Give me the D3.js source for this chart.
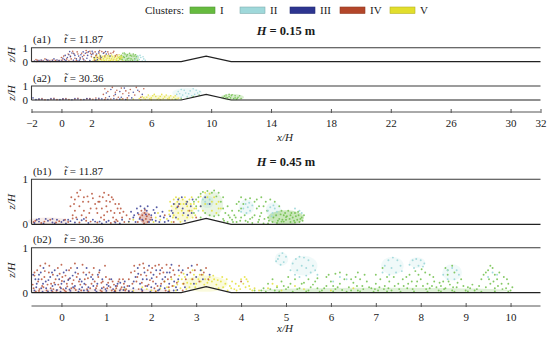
<!DOCTYPE html>
<html><head><meta charset="utf-8">
<script src="https://cdn.jsdelivr.net/npm/d3@7"></script>
<style>
body{margin:0;background:#fff}
svg{display:block;font-family:"Liberation Serif","DejaVu Serif",serif}
svg text{font-family:"Liberation Serif","DejaVu Serif",serif !important;fill:#1a1a1a}
</style>
</head><body>
<svg id="chart" width="550" height="340"></svg>
<script>
// ---------------- data ----------------
const clusters = ["I", "II", "III", "IV", "V"];
const clusterColors = {I: "#66bb3f", II: "#9fd8da", III: "#2d3590", IV: "#b3462a", V: "#e2de2c"};
const depths = [0.15, 0.45];                 // H in metres
const timeLabels = ["11.87", "30.36"];
const panelLabels = [["(a1)", "(a2)"], ["(b1)", "(b2)"]];
const domainXm = [-0.3, 4.8];                // channel extent in metres
const bumpXm = [1.2, 1.45, 1.7];             // bump start, crest, end (m)
const bumpHeightM = 0.06;
const topTicks = [-2, 0, 2, 6, 10, 14, 18, 22, 26, 30, 32];
const bottomTicks = [0, 1, 2, 3, 4, 5, 6, 7, 8, 9, 10];
const zTicks = [0, 1];

// particle positions (x/H, z/H) per panel and cluster
const ptsA1 = {
  III: "-1.8,0.05 -1.5,0.08 -1.2,0.04 -0.9,0.1 -0.6,0.06 -0.3,0.12 0,0.05 0.2,0.15 0.4,0.3 0.5,0.5 0.7,0.62 0.9,0.45 1.0,0.2 1.2,0.1 1.4,0.35 1.6,0.6 1.8,0.7 2.0,0.5 2.2,0.3 2.4,0.15 2.6,0.4 2.8,0.6 3.0,0.55 0.3,0.08 0.8,0.1 1.1,0.05 1.5,0.12 1.9,0.08 2.3,0.06 -1.0,0.15 -0.5,0.2 0.1,0.25 0.6,0.35 1.3,0.5 1.7,0.25 2.1,0.62 2.5,0.7 -1.65,0.02 -1.35,0.12 -0.75,0.02 -0.15,0.08 0.25,0.45 0.55,0.72 0.85,0.55 1.15,0.4 1.45,0.7 1.75,0.45 2.05,0.75 2.35,0.55 2.65,0.3 2.95,0.72 3.25,0.4 1.25,0.2",
  IV: "-1.6,0.1 -1.3,0.06 -0.8,0.04 -0.4,0.09 0.05,0.12 0.35,0.2 0.6,0.4 0.8,0.6 1.1,0.55 1.25,0.3 1.5,0.45 1.7,0.65 1.9,0.75 2.1,0.55 2.3,0.45 2.5,0.6 2.7,0.72 2.9,0.4 3.1,0.7 3.3,0.6 3.5,0.75 3.7,0.5 0.5,0.05 1.0,0.08 1.6,0.04 2.2,0.1 2.6,0.2 -1.1,0.2 0.0,0.3 0.9,0.25 -1.7,0.15 -1.4,0.03 -0.95,0.07 -0.6,0.12 -0.2,0.05 0.15,0.4 0.45,0.55 0.75,0.75 1.05,0.7 1.35,0.6 1.65,0.8 1.95,0.6 2.25,0.7 2.55,0.8 2.85,0.65 3.15,0.55 3.45,0.65 3.6,0.4 0.65,0.2 1.45,0.2 2.0,0.35 2.4,0.3",
  V: "2.1,0.05 2.2,0.2 2.3,0.35 2.4,0.1 2.5,0.25 2.6,0.4 2.7,0.05 2.8,0.2 2.9,0.3 3.0,0.12 3.1,0.42 3.2,0.25 3.3,0.05 3.4,0.35 3.5,0.18 3.6,0.45 3.7,0.08 3.8,0.3 3.9,0.15 4.0,0.4 4.1,0.05 2.35,0.45 2.65,0.15 2.95,0.48 3.25,0.1 3.55,0.3 3.85,0.5 2.15,0.3 2.45,0.05 2.75,0.35 3.05,0.25 3.35,0.48 3.65,0.12 3.95,0.25 4.05,0.3 2.55,0.5 3.15,0.05 3.45,0.1 3.75,0.4 2.25,0.12 2.85,0.08 3.35,0.2 3.9,0.35 2.6,0.3 3.2,0.38 3.7,0.22",
  I: "3.8,0.05 3.9,0.2 4.0,0.45 4.1,0.6 4.2,0.3 4.3,0.1 4.4,0.5 4.5,0.25 4.6,0.05 4.7,0.4 4.8,0.55 4.9,0.2 5.0,0.35 5.1,0.1 4.05,0.15 4.25,0.55 4.45,0.05 4.65,0.2 4.85,0.4 5.05,0.05 4.15,0.35 4.35,0.4 4.55,0.6 4.75,0.1 4.95,0.5 4.2,0.62 4.6,0.45 4.4,0.2",
  II: "4.9,0.1 5.0,0.25 5.1,0.4 5.2,0.15 5.3,0.3 5.4,0.05 5.5,0.2 5.6,0.1 5.25,0.45 5.45,0.35"
};
const ptsA2 = {
  III: "-1.9,0.15 -1.7,0.03 -1.3,0.05 -0.9,0.02 -0.5,0.06 -0.1,0.03 0.3,0.05 0.7,0.02 1.1,0.07 1.5,0.04 1.9,0.06 2.3,0.03 2.7,0.08 3.1,0.05 3.5,0.1 3.9,0.06 4.3,0.04 3.0,0.5 3.3,0.75 3.6,0.4 3.9,0.6 4.2,0.85 4.5,0.3 4.8,0.55 5.1,0.7 5.4,0.4 3.2,0.25 4.0,0.2 4.7,0.15 -1.5,0.08 -0.7,0.1 0.1,0.08 0.9,0.1 1.7,0.1 2.5,0.12",
  IV: "-1.5,0.04 -1.1,0.02 -0.7,0.05 -0.3,0.03 0.1,0.06 0.5,0.04 0.9,0.05 1.3,0.03 1.7,0.08 2.1,0.05 2.5,0.06 2.9,0.04 3.3,0.07 3.7,0.05 4.1,0.08 2.8,0.4 2.9,0.8 3.1,0.6 3.4,0.9 3.5,0.3 3.7,0.7 3.8,0.2 4.0,0.85 4.1,0.45 4.3,0.65 4.4,0.15 4.6,0.75 4.9,0.35 5.0,0.9 5.2,0.6 5.3,0.2 5.5,0.8 3.6,0.55 4.5,0.5 2.95,0.15 -1.3,0.1 -0.5,0.12 0.3,0.1 1.1,0.12 1.9,0.1 2.3,0.14",
  V: "4.0,0.05 4.4,0.03 4.8,0.06 5.2,0.1 5.4,0.25 5.6,0.05 5.8,0.35 6.0,0.15 6.2,0.4 6.4,0.05 6.6,0.25 6.8,0.1 7.0,0.35 7.2,0.2 7.4,0.05 7.6,0.3 7.8,0.12 5.5,0.15 5.9,0.08 6.3,0.25 6.7,0.4 7.1,0.08 7.5,0.2 5.7,0.2 6.1,0.3 6.5,0.12 6.9,0.22 7.3,0.3 7.7,0.05 6.0,0.02 6.6,0.04 7.2,0.06 5.3,0.02",
  II: "7.7,0.4 7.8,0.6 8.0,0.75 8.2,0.7 8.3,0.5 8.1,0.35 7.9,0.45 8.5,0.45 8.6,0.65 8.8,0.8 9.0,0.7 9.1,0.5 8.9,0.4 8.7,0.3 9.25,0.6 8.4,0.25 8.0,0.2",
  I: "7.6,0.05 8.0,0.08 8.4,0.12 8.8,0.25 9.2,0.35 10.8,0.2 10.9,0.28 11.0,0.35 11.2,0.4 11.4,0.38 11.6,0.3 11.8,0.2 12.0,0.1 11.1,0.15 11.3,0.15 11.5,0.1 11.7,0.05 11.9,0.3 11.2,0.25 11.6,0.15 11.0,0.2 11.35,0.3 11.75,0.12"
};
const ptsB1 = {
  III: "-0.6,0.03 -0.5,0.06 -0.4,0.02 -0.3,0.08 -0.2,0.04 -0.1,0.1 0,0.05 0.1,0.02 0.2,0.07 0.3,0.04 0.45,0.09 0.6,0.03 0.75,0.06 0.9,0.02 1.05,0.08 1.2,0.04 1.35,0.1 1.5,0.06 1.6,0.15 1.7,0.25 1.8,0.1 1.9,0.3 2.0,0.2 2.1,0.08 2.2,0.18 2.3,0.05 2.45,0.3 2.5,0.45 2.6,0.55 2.7,0.35 2.8,0.5 2.9,0.25 2.55,0.15 2.75,0.08 1.55,0.28 1.65,0.05 1.85,0.35 1.95,0.05 2.05,0.32 2.25,0.28 -0.55,0.1 -0.35,0.12 -0.15,0.02 0.05,0.09 0.35,0.11 0.7,0.1 1.0,0.05 1.3,0.02 3.1,0.4 3.2,0.6 3.3,0.45 1.62,0.2 1.68,0.35 1.74,0.12 1.76,0.4 1.88,0.22 1.92,0.4 2.02,0.1 2.08,0.25 2.12,0.38 2.18,0.05 2.28,0.15 2.38,0.08 2.42,0.18 2.48,0.25 2.58,0.38 2.62,0.45 2.68,0.6 2.72,0.25 2.78,0.45 2.82,0.2 2.88,0.4 2.92,0.55 -0.5,0.12 -0.2,0.12 0.15,0.1 0.5,0.12 0.85,0.06",
  IV: "-0.62,0.05 -0.45,0.03 -0.25,0.1 -0.05,0.07 0.15,0.05 0.25,0.13 0.4,0.04 0.55,0.08 0.8,0.04 0.95,0.1 1.1,0.03 1.25,0.07 1.4,0.05 0.3,0.55 0.35,0.7 0.42,0.76 0.5,0.6 0.6,0.5 0.7,0.58 0.75,0.45 0.65,0.35 0.5,0.3 0.4,0.4 0.45,0.2 0.55,0.15 0.3,0.3 0.25,0.2 0.38,0.62 0.85,0.62 0.95,0.7 1.05,0.65 1.15,0.55 1.2,0.45 1.25,0.35 1.3,0.25 1.1,0.3 1.0,0.4 0.9,0.35 0.8,0.25 0.95,0.2 1.15,0.15 1.35,0.15 0.85,0.5 1.0,0.52 1.7,0.05 1.75,0.15 1.8,0.2 1.82,0.08 1.85,0.25 1.88,0.12 1.9,0.18 1.92,0.05 1.95,0.22 1.98,0.1 1.78,0.3 1.86,0.32 1.72,0.22 2.0,0.15 1.84,0.02 2.3,0.2 2.6,0.4 2.85,0.3 3.0,0.15 2.5,0.05 0.2,0.4 0.22,0.6 0.28,0.45 0.33,0.15 0.48,0.5 0.58,0.62 0.62,0.25 0.68,0.68 0.78,0.35 0.82,0.5 0.88,0.15 0.92,0.6 1.02,0.28 1.08,0.5 1.12,0.6 1.18,0.25 1.22,0.1 1.28,0.45 1.32,0.35 1.38,0.28 1.45,0.2 1.52,0.12 -0.58,0.08 -0.38,0.06 -0.12,0.04 0.08,0.1 0.65,0.06 1.18,0.06",
  V: "1.5,0.05 1.6,0.1 2.05,0.05 2.1,0.15 2.15,0.25 2.2,0.1 2.35,0.12 2.4,0.22 2.45,0.05 2.5,0.2 2.55,0.35 2.6,0.25 2.65,0.45 2.7,0.55 2.75,0.6 2.8,0.4 2.85,0.55 2.9,0.6 2.95,0.45 2.6,0.12 2.7,0.2 2.8,0.15 2.9,0.3 2.5,0.55 2.55,0.6 2.45,0.4 2.65,0.05 3.0,0.35 3.05,0.5 3.1,0.62 3.2,0.7 3.3,0.68 3.4,0.6 3.5,0.5 3.55,0.35 3.45,0.25 3.35,0.3 3.15,0.3 2.98,0.2 2.4,0.3 2.42,0.5 2.48,0.15 2.52,0.45 2.58,0.5 2.62,0.58 2.68,0.3 2.72,0.45 2.78,0.5 2.82,0.3 2.88,0.45 2.92,0.15 2.96,0.35 3.1,0.4 3.2,0.45 3.25,0.6 3.35,0.5 3.45,0.45 3.5,0.35",
  I: "2.95,0.25 3.0,0.4 3.05,0.6 3.15,0.72 3.25,0.74 3.35,0.7 3.45,0.62 3.55,0.5 3.6,0.35 3.5,0.2 3.4,0.18 3.3,0.2 3.2,0.25 3.1,0.15 3.6,0.12 3.7,0.05 3.75,0.15 3.8,0.1 3.85,0.2 3.9,0.05 3.95,0.3 4.0,0.15 4.05,0.45 4.1,0.55 4.2,0.58 4.3,0.5 4.35,0.35 4.3,0.2 4.2,0.12 4.1,0.08 4.4,0.1 4.45,0.25 4.5,0.4 4.55,0.5 4.65,0.55 4.75,0.5 4.85,0.4 4.9,0.3 4.95,0.2 4.85,0.12 4.7,0.05 4.6,0.15 5.0,0.1 5.1,0.05 5.15,0.15 5.2,0.25 5.25,0.1 5.3,0.05 5.35,0.15 5.1,0.2 4.25,0.03 4.5,0.02 4.8,0.03 5.05,0.3 3.65,0.25 3.7,0.4 3.8,0.3 3.9,0.45 4.0,0.6 4.6,0.02 4.9,0.06 5.2,0.04 5.28,0.2 5.0,0.16 4.95,0.06 3.62,0.08 3.72,0.2 3.82,0.05 3.88,0.15 3.98,0.08 4.08,0.2 4.15,0.05 4.25,0.15 4.38,0.05 4.42,0.18 4.52,0.12 4.58,0.3 4.62,0.08 4.72,0.15 4.78,0.2 4.82,0.08 4.88,0.22 4.92,0.1 4.98,0.25 5.02,0.18 5.08,0.12 5.12,0.25 5.18,0.08 5.22,0.18 5.27,0.28 5.32,0.12 5.37,0.08 5.4,0.2 4.4,0.4 4.35,0.55 4.45,0.6 4.0,0.35 3.95,0.5 3.6,0.6 3.5,0.7 3.4,0.75 3.1,0.68 3.0,0.55 2.95,0.5",
  II: "4.05,0.35 4.1,0.45 4.15,0.38 4.2,0.3 4.12,0.25 4.0,0.28 4.18,0.48 4.25,0.42 4.6,0.3 4.65,0.38 4.7,0.25 4.75,0.35 4.8,0.28 4.72,0.42 4.68,0.18 3.2,0.5 3.25,0.45 3.3,0.55 3.15,0.55 3.05,0.3 5.2,0.35 5.3,0.3 5.35,0.25"
};
const ptsB2 = {
  III: "-0.6,0.05 -0.55,0.2 -0.5,0.4 -0.45,0.1 -0.4,0.55 -0.35,0.25 -0.3,0.03 -0.25,0.35 -0.2,0.15 -0.15,0.5 -0.1,0.06 -0.05,0.3 0,0.2 0.05,0.45 0.1,0.1 0.15,0.28 0.2,0.04 0.25,0.38 0.3,0.15 0.35,0.55 0.4,0.08 0.45,0.25 0.5,0.05 0.55,0.4 0.6,0.12 0.7,0.3 0.75,0.06 0.8,0.2 0.85,0.5 0.9,0.1 1.0,0.04 1.05,0.15 1.15,0.08 1.25,0.2 1.3,0.05 1.4,0.12 1.5,0.04 1.6,0.1 1.65,0.35 1.7,0.55 1.75,0.2 1.8,0.05 1.85,0.45 1.9,0.3 1.95,0.6 2.0,0.12 2.05,0.4 2.1,0.2 2.15,0.05 2.2,0.5 2.25,0.3 2.3,0.1 2.35,0.45 2.4,0.2 2.5,0.05 2.6,0.3 2.7,0.5 2.8,0.4 2.9,0.6 3.0,0.35 3.1,0.5 3.3,0.4 2.55,0.12 2.45,0.62 -0.58,0.3 -0.42,0.02 -0.22,0.05 -0.02,0.02 0.18,0.07 0.38,0.02 0.58,0.05 0.78,0.02 0.98,0.08 1.18,0.02 1.38,0.06 1.58,0.02 1.78,0.08 1.98,0.02 2.18,0.07 2.38,0.02 2.58,0.06 -0.63,0.4 -0.56,0.12 -0.51,0.3 -0.46,0.45 -0.41,0.2 -0.34,0.1 -0.29,0.28 -0.21,0.45 -0.14,0.18 -0.09,0.38 -0.01,0.1 0.06,0.25 0.11,0.5 0.19,0.32 0.26,0.12 0.31,0.45 0.41,0.3 0.46,0.12 0.51,0.2 0.56,0.55 0.66,0.35 0.71,0.15 0.81,0.4 0.91,0.3 1.01,0.18 1.11,0.3 1.21,0.15 1.31,0.22 1.41,0.25 1.51,0.15 1.61,0.25 1.71,0.42 1.81,0.3 1.91,0.15 2.01,0.32 2.11,0.5 2.21,0.15 2.31,0.35 2.41,0.45 2.51,0.25 2.61,0.5 2.75,0.12 2.95,0.2 3.15,0.3",
  IV: "-0.62,0.1 -0.57,0.02 -0.52,0.25 -0.47,0.6 -0.43,0.15 -0.38,0.35 -0.33,0.05 -0.28,0.45 -0.23,0.2 -0.18,0.08 -0.13,0.3 -0.08,0.55 -0.03,0.12 0.02,0.35 0.07,0.05 0.12,0.2 0.17,0.5 0.22,0.1 0.27,0.28 0.32,0.06 0.37,0.42 0.42,0.18 0.47,0.62 0.52,0.3 0.57,0.08 0.62,0.45 0.67,0.2 0.72,0.55 0.77,0.1 0.82,0.35 0.87,0.05 0.92,0.25 0.97,0.6 1.02,0.1 1.07,0.3 1.12,0.05 1.17,0.18 1.22,0.1 1.27,0.25 1.32,0.08 1.37,0.3 1.42,0.05 1.47,0.15 1.55,0.45 1.62,0.6 1.67,0.25 1.72,0.08 1.77,0.4 1.82,0.65 1.87,0.15 1.92,0.5 1.97,0.28 2.02,0.55 2.07,0.1 2.12,0.35 2.17,0.62 2.22,0.2 2.27,0.45 2.32,0.05 2.37,0.3 2.42,0.55 2.47,0.15 2.52,0.4 2.62,0.6 2.72,0.2 2.82,0.55 2.92,0.3 3.02,0.62 3.12,0.4 3.22,0.55 -0.6,0.45 -0.36,0.65 0.0,0.62 0.3,0.65 0.6,0.02 0.9,0.03 1.2,0.02 1.5,0.02 1.8,0.03 2.1,0.02 2.4,0.03 2.7,0.05 0.1,0.02 -0.2,0.02 -0.5,0.04 4.0,0.25 -0.64,0.18 -0.6,0.38 -0.54,0.5 -0.49,0.08 -0.44,0.3 -0.4,0.12 -0.37,0.48 -0.31,0.18 -0.27,0.6 -0.24,0.1 -0.19,0.4 -0.16,0.22 -0.11,0.04 -0.07,0.18 -0.04,0.42 0.01,0.26 0.04,0.08 0.09,0.38 0.13,0.14 0.16,0.3 0.21,0.55 0.24,0.2 0.29,0.1 0.34,0.35 0.39,0.25 0.44,0.05 0.49,0.45 0.54,0.18 0.59,0.32 0.64,0.1 0.69,0.4 0.74,0.25 0.79,0.15 0.84,0.45 0.89,0.22 0.94,0.12 0.99,0.35 1.04,0.22 1.09,0.12 1.14,0.25 1.19,0.05 1.24,0.15 1.29,0.3 1.34,0.12 1.39,0.2 1.44,0.08 1.5,0.3 1.58,0.2 1.63,0.48 1.69,0.35 1.74,0.62 1.79,0.22 1.84,0.55 1.89,0.38 1.94,0.18 1.99,0.45 2.04,0.25 2.09,0.6 2.14,0.15 2.19,0.42 2.24,0.55 2.29,0.25 2.34,0.62 2.39,0.12 2.44,0.35 2.49,0.5 2.57,0.22 2.67,0.45 2.77,0.3 2.87,0.45 2.97,0.5 3.07,0.25 3.17,0.45 3.27,0.3",
  V: "1.2,0.05 1.4,0.08 1.6,0.04 1.8,0.12 2.0,0.05 2.2,0.1 2.4,0.06 2.5,0.15 2.6,0.25 2.65,0.1 2.7,0.2 2.75,0.35 2.8,0.22 2.85,0.12 2.9,0.3 2.95,0.4 3.0,0.2 3.05,0.3 3.1,0.25 3.15,0.4 3.2,0.3 3.25,0.22 3.3,0.35 3.35,0.25 3.4,0.3 3.45,0.18 3.5,0.1 3.55,0.25 3.6,0.12 3.65,0.2 3.7,0.05 3.75,0.15 3.85,0.08 3.95,0.15 4.0,0.3 4.05,0.2 4.1,0.12 4.15,0.25 4.2,0.08 4.25,0.05 4.4,0.05 4.6,0.1 4.7,0.2 4.8,0.15 4.9,0.05 2.3,0.25 2.45,0.3 2.55,0.05 3.8,0.25 4.08,0.35 3.9,0.05 5.2,0.15 5.4,0.08 6.0,0.05 6.5,0.1 1.9,0.08 2.1,0.04 2.35,0.12 2.58,0.18 2.68,0.3 2.78,0.08 2.88,0.2 2.98,0.12 3.08,0.4 3.18,0.18 3.28,0.28 3.38,0.38 3.48,0.28 3.58,0.35 3.68,0.3 3.78,0.1 3.88,0.2 3.98,0.08 4.12,0.3 4.18,0.15 4.3,0.1 2.62,0.38 2.72,0.42 2.92,0.5 3.12,0.5",
  II: "4.78,0.7 4.85,0.82 4.92,0.88 5.0,0.8 4.95,0.68 4.88,0.62 4.82,0.75 5.1,0.5 5.15,0.65 5.22,0.75 5.3,0.8 5.4,0.78 5.5,0.72 5.6,0.6 5.65,0.5 5.7,0.4 5.55,0.45 5.45,0.55 5.35,0.6 5.25,0.5 5.2,0.4 5.3,0.35 5.45,0.38 7.15,0.45 7.2,0.6 7.28,0.72 7.38,0.78 7.48,0.72 7.55,0.6 7.58,0.48 7.45,0.45 7.35,0.55 7.3,0.4 7.75,0.62 7.82,0.72 7.9,0.75 8.0,0.72 8.08,0.65 8.05,0.58 7.95,0.6 7.85,0.55 8.5,0.4 8.6,0.5 8.7,0.55 8.8,0.5 8.85,0.4 8.75,0.3 8.6,0.3 9.5,0.35 9.6,0.45 9.7,0.4 6.05,0.25 6.2,0.35 6.35,0.3",
  I: "4.3,0.05 4.5,0.1 4.6,0.2 4.7,0.3 4.8,0.12 4.9,0.25 5.0,0.08 5.1,0.2 5.2,0.3 5.3,0.1 5.4,0.22 5.5,0.05 5.6,0.18 5.7,0.1 5.8,0.05 5.9,0.15 6.0,0.25 6.1,0.08 6.2,0.2 6.3,0.3 6.4,0.12 6.5,0.22 6.55,0.35 6.6,0.05 6.7,0.15 6.8,0.25 6.9,0.1 7.0,0.2 7.05,0.05 7.1,0.3 7.2,0.15 7.3,0.25 7.35,0.05 7.4,0.35 7.5,0.2 7.6,0.3 7.7,0.1 7.75,0.4 7.8,0.25 7.9,0.15 7.95,0.4 8.0,0.3 8.1,0.45 8.15,0.2 8.2,0.1 8.3,0.25 8.4,0.05 8.45,0.15 8.5,0.25 8.55,0.1 8.6,0.4 8.65,0.18 8.7,0.05 8.8,0.12 8.9,0.3 9.0,0.05 9.1,0.1 9.2,0.05 9.3,0.15 9.35,0.3 9.4,0.4 9.5,0.5 9.55,0.2 9.6,0.55 9.65,0.1 9.7,0.3 9.75,0.45 9.8,0.2 9.85,0.35 9.9,0.1 9.95,0.2 10.0,0.05 10.04,0.12 8.6,0.5 8.75,0.45 8.7,0.6 8.55,0.55 6.6,0.45 6.65,0.3 6.75,0.4 5.9,0.35 5.95,0.4 6.1,0.42 7.0,0.4 7.15,0.55 7.25,0.35 4.55,0.02 4.85,0.03 5.15,0.02 5.45,0.03 5.75,0.02 6.05,0.03 6.35,0.02 6.65,0.03 6.95,0.02 7.25,0.03 7.55,0.02 7.85,0.03 8.15,0.02 8.45,0.03 8.75,0.02 9.05,0.03 9.35,0.02 9.65,0.03 9.95,0.02 4.45,0.05 4.65,0.08 4.75,0.05 4.95,0.15 5.05,0.12 5.25,0.08 5.35,0.2 5.55,0.12 5.65,0.25 5.85,0.1 6.05,0.15 6.15,0.12 6.25,0.06 6.45,0.05 6.58,0.15 6.72,0.08 6.85,0.12 6.98,0.08 7.08,0.12 7.18,0.08 7.28,0.1 7.42,0.15 7.52,0.08 7.62,0.15 7.72,0.2 7.82,0.08 7.92,0.25 8.05,0.15 8.12,0.08 8.25,0.15 8.35,0.12 8.42,0.22 8.52,0.08 8.62,0.25 8.72,0.12 8.82,0.22 8.95,0.15 9.05,0.12 9.15,0.18 9.25,0.08 9.45,0.12 9.52,0.3 9.62,0.25 9.72,0.15 9.82,0.08 9.92,0.3 7.68,0.35 7.88,0.48 8.02,0.52 8.2,0.4 8.28,0.35 6.45,0.3 6.35,0.4 6.2,0.45 9.45,0.45 9.65,0.4 9.55,0.6 5.5,0.3 5.7,0.32 5.05,0.35"
};
// faint concentration haze: [cluster, x/H, z/H, rx, rz, opacity]
const hazeA = [
  [["IV", -0.5, 0.08, 1.6, 0.12, 0.1], ["V", 3.1, 0.22, 1.0, 0.25, 0.3], ["I", 4.5, 0.28, 0.7, 0.3, 0.3]],
  [["II", 8.4, 0.5, 1.0, 0.35, 0.16], ["I", 11.4, 0.2, 0.8, 0.22, 0.25], ["V", 6.6, 0.15, 1.4, 0.2, 0.2]]
];
const hazeB = [
  [["IV", -0.3, 0.07, 0.45, 0.08, 0.1], ["II", 4.12, 0.38, 0.17, 0.17, 0.18], ["II", 4.72, 0.32, 0.17, 0.17, 0.18],
   ["II", 3.25, 0.5, 0.14, 0.14, 0.2], ["I", 5.0, 0.15, 0.4, 0.16, 0.35], ["V", 2.7, 0.3, 0.25, 0.25, 0.18],
   ["I", 3.35, 0.45, 0.25, 0.28, 0.14], ["IV", 1.86, 0.15, 0.12, 0.14, 0.3]],
  [["IV", 0.9, 0.04, 1.6, 0.05, 0.1], ["II", 4.9, 0.75, 0.15, 0.15, 0.16], ["II", 5.4, 0.6, 0.3, 0.22, 0.16],
   ["II", 7.37, 0.6, 0.25, 0.2, 0.16], ["II", 7.92, 0.67, 0.18, 0.12, 0.16], ["II", 8.7, 0.45, 0.22, 0.18, 0.16],
   ["V", 3.2, 0.2, 0.5, 0.18, 0.16], ["I", 7.2, 0.05, 2.8, 0.06, 0.2]]
];

// ---------------- layout ----------------
const FONT = "Liberation Serif, DejaVu Serif, serif";
const svg = d3.select("#chart");
const xRange = [31.5, 540.5];
const frames = [
  [{top: 47.7, bottom: 61.7}, {top: 86, bottom: 100}],
  [{top: 179.3, bottom: 224.3}, {top: 247.7, bottom: 292.7}]
];
const axisY = [112, 306];
const titleY = [35, 166];
const particleData = [[ptsA1, ptsA2], [ptsB1, ptsB2]];
const parsePts = s => s.trim().split(/\s+/).map(p => p.split(",").map(Number));
const txt = (sel) => sel.append("text").attr("font-family", FONT);

// legend
const legend = svg.append("g");
txt(legend).attr("x", 184).attr("y", 14).attr("text-anchor", "end").attr("font-size", 11).text("Clusters:");
const legendX = d3.scaleBand().domain(clusters).range([190, 440]);
clusters.forEach(c => {
  const x0 = legendX(c);
  legend.append("rect").attr("x", x0).attr("y", 7).attr("width", 25).attr("height", 6.5)
    .attr("fill", clusterColors[c]).attr("stroke", d3.color(clusterColors[c]).darker(0.6)).attr("stroke-width", 0.6);
  txt(legend).attr("x", x0 + 30).attr("y", 14).attr("font-size", 11).text(c);
});

depths.forEach((H, gi) => {
  const xs = d3.scaleLinear().domain(domainXm.map(v => v / H)).range(xRange);
  // title
  const t = txt(svg).attr("x", 286).attr("y", titleY[gi]).attr("text-anchor", "middle")
    .attr("font-size", 12.5).attr("font-weight", "bold");
  t.append("tspan").attr("font-style", "italic").text("H");
  t.append("tspan").text(" = " + H.toFixed(2) + " m");

  const terrain = [[domainXm[0], 0], [bumpXm[0], 0], [bumpXm[1], bumpHeightM], [bumpXm[2], 0], [domainXm[1], 0]]
    .map(([x, z]) => [x / H, z / H]);

  frames[gi].forEach((f, pi) => {
    const ys = d3.scaleLinear().domain([0, 1]).range([f.bottom, f.top]);
    const g = svg.append("g");
    const rad = gi === 0 ? 0.8 : 0.95;
    // haze
    const hz = gi === 0 ? hazeA[pi] : hazeB[pi];
    g.selectAll("ellipse.h").data(hz).join("ellipse")
      .attr("cx", d => xs(d[1])).attr("cy", d => ys(d[2]))
      .attr("rx", d => Math.abs(xs(d[3]) - xs(0))).attr("ry", d => Math.abs(ys(0) - ys(d[4])))
      .attr("fill", d => clusterColors[d[0]]).attr("opacity", d => d[5]);
    // particles
    ["I", "II", "V", "IV", "III"].forEach(c => {
      const pts = parsePts(particleData[gi][pi][c]);
      g.selectAll(null).data(pts).join("circle")
        .attr("cx", d => xs(d[0])).attr("cy", d => ys(d[1])).attr("r", rad)
        .attr("fill", clusterColors[c]).attr("opacity", c === "II" ? 0.95 : 0.8);
    });
    // frame: lid, inlet wall, bed
    const line = d3.line().x(d => xs(d[0])).y(d => ys(d[1]));
    g.append("path").attr("d", line([[xs.domain()[0], 0], [xs.domain()[0], 1], [xs.domain()[1], 1]]))
      .attr("fill", "none").attr("stroke", "#3a3a3a").attr("stroke-width", 1.1);
    g.append("path").attr("d", line(terrain)).attr("fill", "none").attr("stroke", "#222").attr("stroke-width", 1.2);
    // z ticks
    zTicks.forEach(v => {
      txt(svg).attr("x", 28).attr("y", ys(v) + 3.8).attr("text-anchor", "end").attr("font-size", 11).text(v);
    });
    txt(svg).attr("transform", `translate(15,${(f.top + f.bottom) / 2}) rotate(-90)`)
      .attr("text-anchor", "middle").attr("font-size", 11).attr("font-style", "italic").text("z/H");
    // panel label
    txt(svg).attr("x", 33).attr("y", f.top - 4.5).attr("font-size", 11).text(panelLabels[gi][pi]);
    const tl = txt(svg).attr("x", 64).attr("y", f.top - 4.5).attr("font-size", 11);
    tl.append("tspan").attr("font-style", "italic").text("t\u0303");
    tl.append("tspan").text(" = " + timeLabels[pi]);
  });

  // x axis
  const ticks = gi === 0 ? topTicks : bottomTicks;
  const axis = d3.axisBottom(xs).tickValues(ticks).tickSize(0).tickPadding(0)
    .tickFormat(d => d < 0 ? "\u2212" + Math.abs(d) : d);
  const ag = svg.append("g").attr("transform", `translate(0,${axisY[gi]})`).call(axis)
    .attr("font-family", FONT);
  ag.select(".domain").attr("d", `M${xRange[0]},0H${xRange[1]}`).attr("stroke", "#555").attr("stroke-width", 1);
  ag.selectAll(".tick line").attr("y1", -3).attr("y2", 1).attr("stroke", "#555");
  ag.selectAll(".tick text").attr("y", 15).attr("dy", 0).attr("font-size", 11).attr("fill", "#1a1a1a");
  txt(svg).attr("x", 285).attr("y", axisY[gi] + (gi === 0 ? 29 : 26)).attr("text-anchor", "middle")
    .attr("font-size", 11).attr("font-style", "italic").text("x/H");
});
</script>
</body></html>
